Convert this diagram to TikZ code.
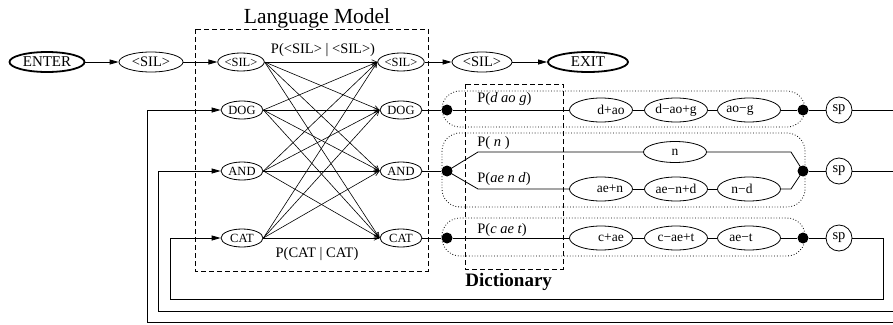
\documentclass[tikz,border=0pt]{standalone}
\usepackage{fontspec}
\setmainfont{Liberation Serif}
\usetikzlibrary{arrows.meta,shapes.geometric}
\begin{document}
\begin{tikzpicture}[x=1pt,y=-1pt,line width=0.8pt,
  txt/.style={font=\fontsize{14.5pt}{16pt}\selectfont,inner sep=0pt},
  term/.style={ellipse,draw,line width=1.8pt,minimum height=20pt,inner sep=0pt,font=\fontsize{15pt}{16pt}\selectfont},
  silnode/.style={ellipse,draw,minimum height=20pt,minimum width=62pt,inner sep=0pt,font=\fontsize{14.5pt}{16pt}\selectfont},
  lmn/.style={ellipse,draw,minimum width=42pt,minimum height=18pt,inner sep=0pt,font=\fontsize{12.5pt}{13pt}\selectfont},
  ph/.style={ellipse,draw,minimum width=63pt,minimum height=24pt,inner sep=0pt,font=\fontsize{13.5pt}{14pt}\selectfont},
  spn/.style={circle,draw,minimum size=26pt,inner sep=0pt,font=\fontsize{14.5pt}{16pt}\selectfont},
  dotn/.style={circle,fill,minimum size=11pt,inner sep=0pt},
  flow/.style={-{Triangle[length=9pt,width=5pt]}},
  lme/.style={-{Straight Barb[length=5pt,width=4.5pt]},line width=0.6pt},
  lmbox/.style={dash pattern=on 5pt off 3pt,line width=0.8pt},
  wbox/.style={dotted,line width=0.8pt,rounded corners=18pt}]
\useasboundingbox (0,0) rectangle (893,324);

% word boxes (dotted)
\draw[wbox] (442,91) rectangle (805,127);
\draw[wbox] (442,133) rectangle (805,207);
\draw[wbox] (442,218) rectangle (805,256);

% boxes
\draw[lmbox] (195,29) rectangle (428,271);
\draw[lmbox] (465,84) rectangle (563,269);
\node[font=\fontsize{21.5pt}{24pt}\selectfont,inner sep=0pt,anchor=base] (lmtitle) at (317,23) {Language Model};
\node[font=\bfseries\fontsize{19pt}{21pt}\selectfont,inner sep=0pt,anchor=base west] (dicttitle) at (465,286) {Dictionary};

% top row
\node[term,minimum width=75pt] (enter) at (47,62) {ENTER};
\node[silnode,minimum width=64pt] (sil1) at (151,62) {<SIL>};
\node[lmn] (lsil) at (241,62) {<SIL>};
\node[lmn] (rsil) at (401,62) {<SIL>};
\node[silnode,minimum width=60pt] (sil2) at (482,62) {<SIL>};
\node[term,minimum width=80pt] (exit) at (588,62) {EXIT};

\node[lmn] (ldog) at (242,110) {DOG};
\node[lmn] (land) at (242,171) {AND};
\node[lmn] (lcat) at (242,238) {CAT};
\node[lmn] (rdog) at (401,110) {DOG};
\node[lmn] (rand) at (401,171) {AND};
\node[lmn] (rcat) at (401,238) {CAT};

\draw[flow] (enter) -- (sil1);
\draw[flow] (sil1) -- (lsil);
\draw[flow] (rsil) -- (sil2);
\draw[flow] (sil2) -- (exit);

\foreach \a in {lsil,ldog,land,lcat}{
  \foreach \b in {rsil,rdog,rand,rcat}{
    \draw[lme] (\a.east) -- (\b.west);
  }
}
\node[txt,anchor=base] (plab1) at (323,53) {P(<SIL> | <SIL>)};
\node[txt,anchor=base] (plab2) at (317,257) {P(CAT | CAT)};

% dots and sp
\node[dotn] (dl1) at (447,110) {};
\node[dotn] (dl2) at (447,171) {};
\node[dotn] (dl3) at (447,238) {};
\node[dotn] (dr1) at (803,110) {};
\node[dotn] (dr2) at (803,171) {};
\node[dotn] (dr3) at (803,238) {};
\node[spn] (sp1) at (839,110) {sp};
\node[spn] (sp2) at (839,171) {sp};
\node[spn] (sp3) at (839,238) {sp};

% phones
\node[ph] (p11) at (601,110) {\makebox[0pt]{\hspace{20pt}d+ao}};
\node[ph] (p12) at (676,110) {d−ao+g};
\node[ph] (p13) at (749,110) {\makebox[0pt]{ao−g\hspace{18pt}}};
\node[ph,minimum height=21pt] (pn) at (675,152) {n};
\node[ph] (p21) at (601,189) {\makebox[0pt]{\hspace{18pt}ae+n}};
\node[ph] (p22) at (676,189) {ae−n+d};
\node[ph] (p23) at (749,189) {\makebox[0pt]{n−d\hspace{14pt}}};
\node[ph] (p31) at (601,238) {\makebox[0pt]{\hspace{20pt}c+ae}};
\node[ph] (p32) at (676,238) {c−ae+t};
\node[ph] (p33) at (749,238) {\makebox[0pt]{ae−t\hspace{16pt}}};

% labels
\node[txt,anchor=base west] (l1) at (477,102) {P(\textit{d ao g})};
\node[txt,anchor=base west] (l2) at (477,146) {P( \textit{n} )};
\node[txt,anchor=base west] (l3) at (477,182) {P(\textit{ae n d})};
\node[txt,anchor=base west] (l4) at (477,233) {P(\textit{c ae t})};

% connectors
\draw (rdog) -- (dl1) -- (p11) -- (p12) -- (p13) -- (dr1) -- (sp1);
\draw (rand) -- (dl2);
\draw (rcat) -- (dl3) -- (p31) -- (p32) -- (p33) -- (dr3) -- (sp3);
\draw (dl2.center) -- (478,152) -- (pn.west);
\draw (pn.east) -- (791,152) -- (dr2.center);
\draw (dl2.center) -- (478,189) -- (p21.west);
\draw (p21) -- (p22) -- (p23);
\draw (p23.east) -- (791,189) -- (dr2.center);
\draw (dr2) -- (sp2);

% loops
\coordinate (e1) at (893,110);
\coordinate (e2) at (893,171);
\coordinate (f1) at (893,322.5);
\coordinate (f2) at (893,311);
\draw (sp1.east) -- (e1);
\draw (sp2.east) -- (e2);
\draw[flow] (f1) -- (147,322.5) -- (147,110) -- (ldog.west);
\draw[flow] (f2) -- (158,311) -- (158,171) -- (land.west);
\draw[flow] (sp3.east) -- (883,238) -- (883,299) -- (170,299) -- (170,238) -- (lcat.west);
\end{tikzpicture}
\end{document}
